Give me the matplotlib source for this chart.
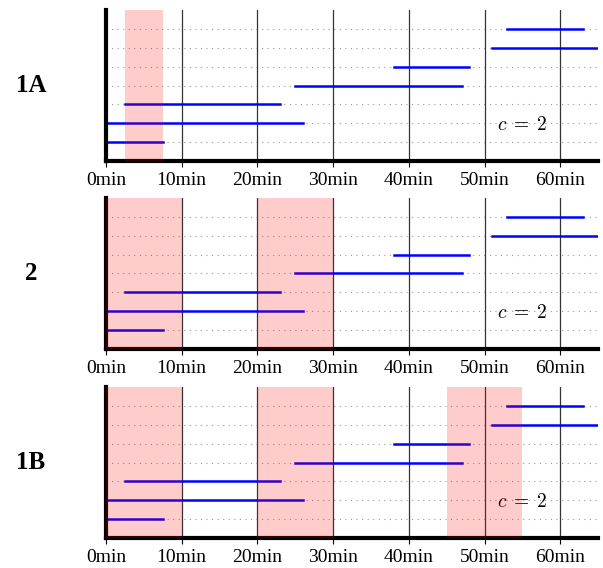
import matplotlib
matplotlib.use("Agg")
import matplotlib.pyplot as plt

plt.rcParams['mathtext.fontset'] = 'cm'

# intervals (start, end) in minutes, one per row from the bottom
starts = [0, 0, 2.5, 25, 38, 51, 53]
ends = [7.5, 26, 23, 47, 48, 66, 63]
rows = [1, 2, 3, 4, 5, 6, 7]

# shaded windows for each panel
panel_names = ['1A', '2', '1B']
shades = [
    [(2.5, 7.5)],
    [(0, 10), (20, 30)],
    [(0, 10), (20, 30), (45, 55)],
]
ticks = [0, 10, 20, 30, 40, 50, 60]
tick_labels = ['%dmin' % t for t in ticks]

fig = plt.figure(figsize=(6.03, 5.68), dpi=100)
bottoms = [0.7165, 0.3856, 0.0528]

for k in range(3):
    ax = fig.add_axes([0.1758, bottoms[k], 0.816, 0.2658])
    ax.set_xlim(0, 65)
    ax.set_ylim(0, 8)

    for r in rows:
        ax.axhline(r, color='#999999', lw=0.8, ls=(0, (1, 4)), zorder=1)
    for t in ticks[1:]:
        ax.axvline(t, color='#333333', lw=0.9, zorder=1)

    for s, e, r in zip(starts, ends, rows):
        ax.plot([s, e], [r, r], color='#0000ff', lw=1.8, zorder=2)

    for a, b in shades[k]:
        ax.axvspan(a, b, color='red', alpha=0.2, lw=0, zorder=4)

    ax.text(51.7, 1.95, r'$c\;=\;2$', fontsize=14, va='center', ha='left')

    for side in ['top', 'right']:
        ax.spines[side].set_visible(False)
    ax.spines['left'].set_linewidth(3)
    ax.spines['bottom'].set_linewidth(3)
    ax.set_yticks([])
    ax.set_xticks(ticks)
    ax.set_xticklabels(tick_labels, fontfamily='Liberation Serif', fontsize=14)
    ax.tick_params(axis='x', length=4, width=0.8, pad=4, colors='black')

    fig.text(31 / 603, bottoms[k] + 0.2658 / 2, panel_names[k],
             fontfamily='Liberation Serif', fontweight='bold', fontsize=18,
             ha='center', va='center')

fig.savefig('out.png', dpi=100)
